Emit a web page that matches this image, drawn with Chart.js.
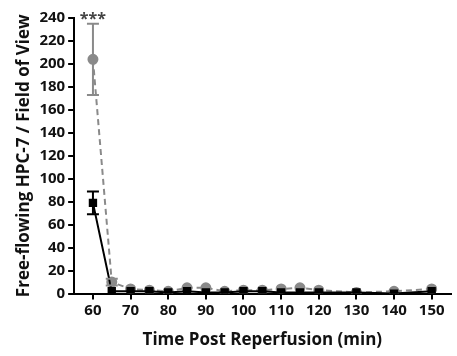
<!DOCTYPE html>
<html><head><meta charset="utf-8">
<script src="https://cdn.jsdelivr.net/npm/chart.js@4"></script>
<style>html,body{margin:0;padding:0;background:#fff}#wrap{width:457px;height:356px}</style>
</head><body><div id="wrap"><canvas id="c" width="457" height="356"></canvas></div>
<script>
const times = [60,65,70,75,80,85,90,95,100,105,110,115,120,130,140,150];
const blackVals = [79,2,2,2,1,2,1,1,2,2,1,1,1,1,0,2];
const blackErr  = [10,0,0,0,0,0,0,0,0,0,0,0,0,0,0,0];
const grayVals  = [204,10,4,3,2,5,5,2,3,3,4,5,3,1,2,4];
const grayErr   = [31,3,0,0,0,0,0,0,0,0,0,0,0,0,0,0];
const xTicks = [60,70,80,90,100,110,120,130,140,150];
const annotation = {x:60, y:240, text:'***'};

const FONT = "'Open Sans', sans-serif";

const errPlugin = {
  id:'errbars',
  afterDatasetsDraw(chart){
    const ctx = chart.ctx, xs = chart.scales.x, ys = chart.scales.y;
    chart.data.datasets.forEach((ds,i)=>{
      if(!ds.err) return;
      ctx.save();
      ctx.strokeStyle = ds.borderColor; ctx.lineWidth = 2; ctx.setLineDash([]);
      ds.data.forEach((p,j)=>{
        const e = ds.err[j]; if(!e) return;
        const px = xs.getPixelForValue(p.x);
        const top = ys.getPixelForValue(p.y+e), bot = ys.getPixelForValue(p.y-e);
        ctx.beginPath();
        ctx.moveTo(px,top); ctx.lineTo(px,bot);
        ctx.moveTo(px-6,top); ctx.lineTo(px+6,top);
        ctx.moveTo(px-6,bot); ctx.lineTo(px+6,bot);
        ctx.stroke();
      });
      ctx.restore();
    });
    ctx.save();
    ctx.fillStyle='#444'; ctx.font = "bold 16px "+FONT; ctx.textAlign='center'; ctx.textBaseline='middle';
    ctx.fillText(annotation.text, xs.getPixelForValue(annotation.x), ys.getPixelForValue(annotation.y)+1);
    ctx.restore();
  }
};

new Chart(document.getElementById('c'), {
  type:'line',
  data:{datasets:[
    {data: times.map((t,i)=>({x:t,y:blackVals[i]})), err: blackErr,
     borderColor:'#000', backgroundColor:'#000', borderWidth:2, pointStyle:'rect', pointRadius:4.5, tension:0},
    {data: times.map((t,i)=>({x:t,y:grayVals[i]})), err: grayErr,
     borderColor:'#8a8a8a', backgroundColor:'#8a8a8a', borderWidth:2, borderDash:[6,4], pointStyle:'circle', pointRadius:4.5, tension:0}
  ]},
  options:{
    responsive:false, animation:false,
    layout:{padding:{top:18,right:2,left:10,bottom:6}},
    plugins:{legend:{display:false}, tooltip:{enabled:false}},
    scales:{
      x:{type:'linear', min:55, max:155,
        afterBuildTicks(s){ s.ticks = xTicks.map(v=>({value:v})); },
        grid:{display:true, drawOnChartArea:false, drawTicks:true, tickLength:6, color:'#000', lineWidth:2},
        border:{color:'#000', width:2},
        ticks:{color:'#111', font:{family:FONT, weight:'bold', size:15}, padding:2, maxRotation:0},
        title:{display:true, text:'Time Post Reperfusion (min)', color:'#111', font:{family:FONT, weight:'bold', size:17}, padding:{top:8,bottom:0}}
      },
      y:{min:0, max:240,
        ticks:{stepSize:20, color:'#111', font:{family:FONT, weight:'bold', size:15}, padding:3},
        grid:{display:true, drawOnChartArea:false, drawTicks:true, tickLength:6, color:'#000', lineWidth:2},
        border:{color:'#000', width:2},
        title:{display:true, text:'Free-flowing HPC-7 / Field of View', color:'#111', font:{family:FONT, weight:'bold', size:17}, padding:{bottom:2}}
      }
    }
  },
  plugins:[errPlugin]
});
</script></body></html>
